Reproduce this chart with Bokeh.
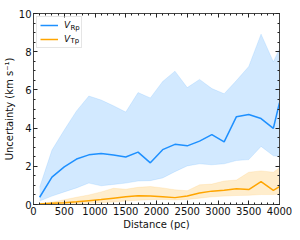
from bokeh.plotting import figure
from bokeh.models import (ColumnDataSource, Range1d, LinearAxis, Legend, LegendItem,
                          Label, FixedTicker, CustomJSTickFormatter)
from bokeh.embed import file_html
from bokeh.resources import INLINE

# ---- data ----
distance = [100, 300, 500, 700, 900, 1100, 1300, 1500, 1700, 1900, 2100,
            2300, 2500, 2700, 2900, 3100, 3300, 3500, 3700, 3900, 4000]
vrp_med = [0.38, 1.43, 1.97, 2.38, 2.60, 2.67, 2.59, 2.49, 2.74, 2.18, 2.87,
           3.15, 3.07, 3.32, 3.66, 3.28, 4.60, 4.71, 4.50, 3.99, 5.33]
vrp_hi = [0.90, 2.85, 3.90, 4.90, 5.68, 5.47, 5.17, 4.84, 5.86, 5.58, 6.44,
          6.98, 6.12, 6.55, 6.07, 5.80, 6.49, 7.23, 8.92, 7.47, 8.16]
vrp_lo = [0.18, 0.44, 0.66, 0.87, 1.12, 0.98, 1.05, 1.12, 1.23, 1.25, 1.39,
          1.72, 2.02, 2.13, 2.08, 2.13, 2.30, 2.35, 3.04, 2.55, 2.51]
vtp_med = [0.03, 0.06, 0.09, 0.14, 0.20, 0.26, 0.33, 0.40, 0.46, 0.44, 0.41,
           0.36, 0.44, 0.60, 0.70, 0.75, 0.82, 0.78, 1.20, 0.74, 0.94]
vtp_hi = [0.06, 0.12, 0.25, 0.38, 0.50, 0.66, 0.85, 0.80, 0.90, 0.94, 0.87,
          0.77, 0.72, 1.03, 1.07, 1.23, 1.28, 1.69, 1.76, 1.69, 1.92]
vtp_lo = [0.00, 0.01, 0.02, 0.04, 0.06, 0.09, 0.13, 0.18, 0.22, 0.25, 0.26,
          0.24, 0.26, 0.33, 0.40, 0.44, 0.47, 0.48, 0.52, 0.52, 0.55]

x_ticks = [0, 500, 1000, 1500, 2000, 2500, 3000, 3500, 4000]
x_minor = list(range(0, 4001, 100))
y_ticks = [0, 2, 4, 6, 8, 10]
y_minor = [i * 0.5 for i in range(21)]

legend_names = ["V", "V"]
legend_subs = ["Rp", "Tp"]

src = ColumnDataSource(dict(x=distance, rm=vrp_med, rh=vrp_hi, rl=vrp_lo,
                            tm=vtp_med, th=vtp_hi, tl=vtp_lo))

BLUE = "#1e90ff"
ORANGE = "#ffa500"
FONT = "DejaVu Sans"

p = figure(width=292, height=232, output_backend="svg", toolbar_location=None,
           x_range=Range1d(0, 4000), y_range=Range1d(0, 10),
           min_border_left=31, min_border_right=13, min_border_top=13,
           min_border_bottom=24)
p.background_fill_color = "white"
p.border_fill_color = "white"
p.xgrid.visible = False
p.ygrid.visible = False
p.outline_line_color = "#444444"
p.outline_line_width = 1

p.varea(x="x", y1="rl", y2="rh", source=src, fill_color=BLUE, fill_alpha=0.2)
p.line(x="x", y="rl", source=src, line_color=BLUE, line_alpha=0.12, line_width=1)
p.line(x="x", y="rh", source=src, line_color=BLUE, line_alpha=0.12, line_width=1)
p.varea(x="x", y1="tl", y2="th", source=src, fill_color=ORANGE, fill_alpha=0.2)
p.line(x="x", y="tl", source=src, line_color=ORANGE, line_alpha=0.12, line_width=1)
p.line(x="x", y="th", source=src, line_color=ORANGE, line_alpha=0.12, line_width=1)
b_line = p.line(x="x", y="rm", source=src, line_color=BLUE, line_width=1.5)
o_line = p.line(x="x", y="tm", source=src, line_color=ORANGE, line_width=1.5)

def style(ax, ticks, minor, labels=True):
    ax.ticker = FixedTicker(ticks=ticks, minor_ticks=minor)
    ax.major_tick_in = 4
    ax.major_tick_out = 0
    ax.minor_tick_in = 2
    ax.minor_tick_out = 0
    ax.axis_line_color = "#444444"
    ax.major_tick_line_color = "#222222"
    ax.minor_tick_line_color = "#222222"
    ax.major_label_text_font = FONT
    ax.major_label_text_font_size = "10px"
    ax.major_label_text_color = "#111111"
    ax.major_label_standoff = 2
    if not labels:
        ax.formatter = CustomJSTickFormatter(code="return ''")
        ax.major_label_standoff = 0
    ax.axis_label_text_font = FONT
    ax.axis_label_text_font_size = "10px"
    ax.axis_label_text_color = "#111111"
    ax.axis_label_text_font_style = "normal"
    ax.axis_label_standoff = 1

style(p.xaxis[0], x_ticks, x_minor)
style(p.yaxis[0], y_ticks, y_minor)
p.xaxis.axis_label = "Distance (pc)"
p.yaxis.axis_label = "Uncertainty (km s\u207b\u00b9)"

top = LinearAxis()
right = LinearAxis()
p.add_layout(top, "above")
p.add_layout(right, "right")
style(top, x_ticks, x_minor, labels=False)
style(right, y_ticks, y_minor, labels=False)

legend = Legend(items=[LegendItem(label=legend_names[0], renderers=[b_line]),
                       LegendItem(label=legend_names[1], renderers=[o_line])],
                location="top_left")
legend.margin = 3
legend.padding = 3
legend.spacing = 4
legend.glyph_width = 18
legend.glyph_height = 10
legend.label_standoff = 6
legend.label_text_font = FONT
legend.label_text_font_style = "italic"
legend.label_text_font_size = "9px"
legend.label_text_color = "#111111"
legend.label_width = 14
legend.label_height = 10
legend.border_line_color = "#cccccc"
legend.border_line_width = 1
legend.background_fill_alpha = 0.0
p.add_layout(legend)

# subscripts of the legend labels, placed in data units inside the legend box
for txt, yy in zip(legend_subs, (9.24, 8.54)):
    p.add_layout(Label(x=600, y=yy, text=txt, text_baseline="alphabetic",
                       text_color="#000000", level="overlay",
                       text_font=FONT, text_font_size="7px", text_font_style="normal"))

open("out.html", "w").write(file_html(p, INLINE))
